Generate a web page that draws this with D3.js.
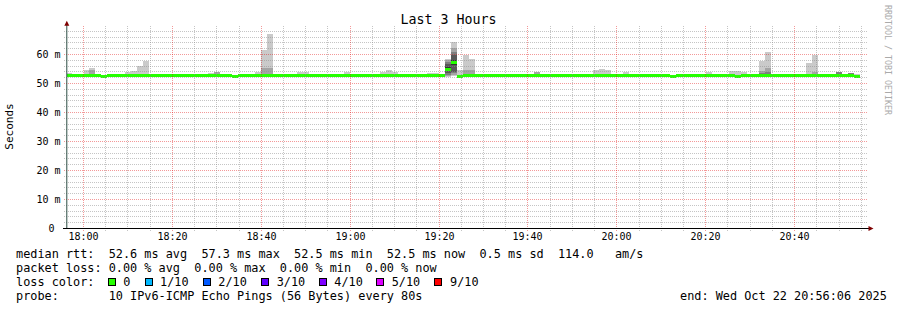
<!DOCTYPE html>
<html>
<head>
<meta charset="utf-8">
<script src="https://cdn.jsdelivr.net/npm/d3@7"></script>
<style>
  html, body { margin: 0; padding: 0; background: #fff; }
  svg { display: block; font-family: "DejaVu Sans Mono", monospace; }
  text { white-space: pre; }
</style>
</head>
<body>
<svg id="chart" width="897" height="310"></svg>
<script>
// ---- data ----
const title = "Last 3 Hours";
const yTicks = [0, 10, 20, 30, 40, 50, 60];
const stepSeconds = 80;

// median rtt (ms) per 80 s step, starting 17:56:00
const median = [
  52.6, 52.6, 52.6, 52.6, 52.6, 52.6, 52.3, 52.6, 52.9, 52.6,
  52.6, 52.6, 52.6, 52.6, 52.6, 52.6, 52.6, 52.6, 52.6, 52.9,
  52.6, 52.6, 52.6, 52.6, 52.6, 52.6, 52.6, 52.6, 52.3, 52.6,
  52.6, 52.6, 52.6, 52.7, 52.7, 52.6, 52.6, 52.9, 52.6, 52.6,
  52.6, 52.6, 52.6, 52.6, 52.9, 52.6, 52.9, 52.6, 52.6, 52.6,
  52.9, 52.6, 52.6, 52.6, 52.6, 52.6, 52.6, 52.6, 52.6, 52.9,
  52.6, 52.6, 52.6, 52.6, 55.0, 57.3, 52.4, 52.6, 52.6, 52.6,
  52.6, 52.6, 52.6, 52.9, 52.6, 52.6, 52.6, 52.6, 52.6, 52.6,
  52.6, 52.6, 52.6, 52.6, 52.6, 52.6, 52.9, 52.6, 52.6, 52.6,
  52.6, 52.6, 52.6, 52.9, 52.6, 52.6, 52.6, 52.6, 52.9, 52.6,
  52.6, 52.9, 52.3, 52.6, 52.6, 52.6, 52.6, 52.6, 52.6, 52.6,
  52.6, 52.6, 52.6, 52.3, 52.6, 52.6, 52.6, 52.6, 52.6, 52.6,
  52.6, 52.6, 52.9, 52.6, 52.6, 52.6, 52.6, 52.6, 52.6, 52.6,
  52.6, 52.6, 52.6, 52.5
];

// slowest ping (ms) per step = top of the light smoke
const rttMax = [
  53.5, 53.3, 52.9, 54.8, 55.5, 52.9, 52.7, 53.2, 53.1, 53.4,
  53.9, 54.2, 56.0, 57.9, 52.9, 52.9, 53.3, 53.3, 52.9, 53.1,
  52.9, 52.9, 52.9, 53.2, 53.7, 53.8, 52.9, 52.9, 52.6, 52.9,
  52.9, 52.9, 54.0, 61.5, 67.2, 52.9, 52.9, 53.1, 52.9, 53.9,
  53.9, 53.2, 52.9, 52.9, 53.1, 52.9, 53.1, 53.9, 53.3, 52.9,
  53.1, 52.9, 52.9, 54.0, 54.8, 53.9, 53.2, 52.9, 52.9, 52.9,
  52.9, 53.5, 53.5, 52.9, 58.6, 64.4, 54.8, 59.8, 58.6, 52.9,
  52.9, 53.1, 53.1, 53.1, 52.9, 52.9, 52.9, 52.9, 53.2, 53.9,
  52.9, 52.9, 52.9, 52.9, 52.9, 53.2, 53.1, 52.9, 53.4, 54.6,
  54.9, 54.5, 52.9, 53.1, 53.9, 53.3, 53.3, 52.9, 53.1, 53.2,
  52.9, 53.1, 52.6, 52.9, 52.9, 53.3, 53.3, 52.9, 54.0, 53.2,
  52.9, 52.9, 54.2, 54.2, 53.9, 52.9, 52.9, 57.6, 61.0, 52.9,
  52.9, 52.9, 53.1, 52.9, 52.9, 57.2, 59.9, 52.9, 52.9, 53.3,
  53.8, 53.2, 53.5, 53.2
];

// steps where the inner smoke shows: all 10 sorted pings (ms)
const smokySteps = [4, 25, 32, 33, 34, 64, 65, 67, 68, 79, 117, 118, 126, 130, 132];
const smokyPings = [
  [52.4, 52.5, 52.5, 52.6, 52.6, 52.6, 52.7, 52.8, 54.5, 55.5],
  [52.4, 52.5, 52.5, 52.6, 52.6, 52.6, 52.7, 52.8, 53.8, 53.8],
  [52.4, 52.5, 52.5, 52.6, 52.6, 52.6, 52.7, 53.1, 53.2, 54.0],
  [52.4, 52.5, 52.5, 52.6, 52.6, 52.7, 52.8, 53.4, 55.4, 61.5],
  [52.4, 52.5, 52.6, 52.6, 52.6, 52.7, 52.8, 53.4, 55.5, 67.2],
  [52.4, 52.6, 52.8, 53.5, 54.4, 55.6, 56.8, 57.5, 58.0, 58.6],
  [52.5, 52.8, 53.5, 54.0, 56.5, 58.1, 59.8, 61.0, 62.1, 64.4],
  [52.4, 52.5, 52.5, 52.6, 52.6, 52.6, 52.7, 52.9, 54.7, 59.8],
  [52.4, 52.5, 52.5, 52.6, 52.6, 52.6, 52.7, 52.9, 54.8, 58.6],
  [52.4, 52.5, 52.5, 52.6, 52.6, 52.6, 52.7, 52.8, 53.9, 53.9],
  [52.4, 52.5, 52.5, 52.6, 52.6, 52.6, 52.7, 53.7, 54.4, 57.6],
  [52.4, 52.5, 52.5, 52.6, 52.6, 52.6, 52.7, 53.9, 55.5, 61.0],
  [52.4, 52.5, 52.5, 52.6, 52.6, 52.6, 52.7, 52.8, 53.9, 59.9],
  [52.4, 52.5, 52.5, 52.6, 52.6, 52.6, 52.7, 53.8, 53.8, 53.8],
  [52.4, 52.5, 52.5, 52.6, 52.6, 52.6, 52.7, 53.5, 53.5, 53.5]
];

const lossLabels = ["0", "1/10", "2/10", "3/10", "4/10", "5/10", "9/10"];
const lossColors = ["#26ff00", "#00b8ff", "#0059ff", "#5e00ff", "#7e00ff", "#dd00ff", "#ff0000"];

const legendLines = [
  "median rtt:  52.6 ms avg  57.3 ms max  52.5 ms min  52.5 ms now  0.5 ms sd  114.0   am/s",
  "packet loss: 0.00 % avg  0.00 % max  0.00 % min  0.00 % now",
  "loss color:",
  "probe:       10 IPv6-ICMP Echo Pings (56 Bytes) every 80s"
];
const endLabel = "end: Wed Oct 22 20:56:06 2025";

// ---- layout ----
const at = (h, m, s) => new Date(2025, 9, 22, h, m, s);
const tStart = at(17, 56, 6), tEnd = at(20, 56, 6), firstStep = at(17, 56, 0);
const plotLeft = 67, plotRight = 866.5, plotTop = 25.5, plotBottom = 228.5;

const svg = d3.select("#chart");
const x = d3.scaleTime().domain([tStart, tEnd]).range([66.2, 866.2]);
const y = d3.scaleLinear().domain([0, 70]).range([228.5, 25.5]);
const smokeShades = ["#cacaca", "#a4a4a4", "#7e7e7e", "#585858", "#323232"];

svg.append("rect").attr("width", 897).attr("height", 310).attr("fill", "#fff");

svg.append("clipPath").attr("id", "plot")
  .append("rect").attr("x", plotLeft).attr("y", plotTop)
  .attr("width", plotRight - plotLeft).attr("height", plotBottom - plotTop);

const graph = svg.append("g").attr("clip-path", "url(#plot)").attr("shape-rendering", "crispEdges");

const stepX = i => Math.round(x(new Date(+firstStep + i * stepSeconds * 1000)));

// smoke
median.forEach((m, i) => {
  const x0 = stepX(i), w = stepX(i + 1) - x0;
  const k = smokySteps.indexOf(i);
  if (k < 0) {
    if (rttMax[i] > m) {
      graph.append("rect").attr("x", x0).attr("width", w)
        .attr("y", y(rttMax[i])).attr("height", y(m) - y(rttMax[i]))
        .attr("fill", smokeShades[0]);
    }
    return;
  }
  const p = smokyPings[k];
  smokeShades.forEach((c, lvl) => {
    const lo = p[lvl], hi = p[p.length - 1 - lvl];
    graph.append("rect").attr("x", x0).attr("width", w)
      .attr("y", y(hi)).attr("height", Math.max(0, y(lo) - y(hi)))
      .attr("fill", c);
  });
});

// median band, coloured by loss (all 0 here)
graph.selectAll("rect.median")
  .data(median)
  .join("rect")
  .attr("class", "median")
  .attr("x", (d, i) => stepX(i))
  .attr("width", (d, i) => stepX(i + 1) - stepX(i))
  .attr("y", d => Math.round(y(d) - 1.5))
  .attr("height", 3)
  .attr("fill", lossColors[0]);

// grid on top, as rrdtool does
const grid = svg.append("g").attr("shape-rendering", "crispEdges").attr("stroke-dasharray", "1,1");
const minorY = d3.range(2, 70, 2).filter(v => v % 10 !== 0);
grid.selectAll("line.hmin").data(minorY).join("line")
  .attr("class", "hmin")
  .attr("x1", 64).attr("x2", plotRight + 1)
  .attr("y1", d => Math.floor(y(d)) + 0.5).attr("y2", d => Math.floor(y(d)) + 0.5)
  .attr("stroke", "rgba(140,140,140,0.5)");
grid.selectAll("line.hmaj").data(yTicks.filter(v => v > 0)).join("line")
  .attr("class", "hmaj")
  .attr("x1", 64).attr("x2", plotRight + 1)
  .attr("y1", d => Math.floor(y(d)) + 0.5).attr("y2", d => Math.floor(y(d)) + 0.5)
  .attr("stroke", "rgba(224,0,0,0.4)");

const minorX = x.ticks(d3.timeMinute.every(5)).filter(d => d.getMinutes() % 20 !== 0);
const majorX = x.ticks(d3.timeMinute.every(20));
grid.selectAll("line.vmin").data(minorX).join("line")
  .attr("class", "vmin")
  .attr("x1", d => Math.floor(x(d)) + 0.5).attr("x2", d => Math.floor(x(d)) + 0.5)
  .attr("y1", plotTop).attr("y2", plotBottom + 2)
  .attr("stroke", "rgba(140,140,140,0.5)");
grid.selectAll("line.vmaj").data(majorX).join("line")
  .attr("class", "vmaj")
  .attr("x1", d => Math.floor(x(d)) + 0.5).attr("x2", d => Math.floor(x(d)) + 0.5)
  .attr("y1", plotTop).attr("y2", plotBottom + 2)
  .attr("stroke", "rgba(224,0,0,0.4)");

// axes
svg.append("line").attr("x1", 66.8).attr("x2", 66.8).attr("y1", 23).attr("y2", 229)
  .attr("stroke", "#2c4d43").attr("stroke-width", 1);
svg.append("line").attr("x1", 63).attr("x2", 870).attr("y1", 228.5).attr("y2", 228.5)
  .attr("stroke", "#000").attr("shape-rendering", "crispEdges");
svg.append("path").attr("d", "M64.3,25.7L69.3,25.7L66.8,20.7Z").attr("fill", "#7f0000");
svg.append("path").attr("d", "M868.5,226L868.5,231L873.5,228.5Z").attr("fill", "#7f0000");

// tick labels
svg.append("g").selectAll("text").data(yTicks).join("text")
  .attr("x", 60.5).attr("y", d => y(d) + 3.6)
  .attr("text-anchor", "end").attr("font-size", "10px").attr("fill", "#000")
  .attr("xml:space", "preserve")
  .text(d => d === 0 ? "0 " : d + " m");

svg.append("g").selectAll("text").data(majorX).join("text")
  .attr("x", d => Math.floor(x(d)) + 0.5).attr("y", 239.8)
  .attr("text-anchor", "middle").attr("font-size", "10px").attr("fill", "#000")
  .text(d3.timeFormat("%H:%M"));

// titles
svg.append("text").attr("x", 448.5).attr("y", 23.5).attr("text-anchor", "middle")
  .attr("font-size", "13.3px").attr("fill", "#000").text(title);
svg.append("text").attr("transform", "translate(13.3,126.5) rotate(-90)")
  .attr("text-anchor", "middle").attr("font-size", "11px").attr("fill", "#000").text("Seconds");
svg.append("text").attr("transform", "translate(885,5) rotate(90)")
  .attr("font-size", "8.3px").attr("fill", "#aaaaaa").text("RRDTOOL / TOBI OETIKER");

// legend
const legend = svg.append("g").attr("font-size", "11.85px").attr("fill", "#000");
legend.selectAll("text.line").data(legendLines).join("text")
  .attr("class", "line")
  .attr("x", 16).attr("y", (d, i) => 257.7 + i * 14)
  .attr("xml:space", "preserve")
  .text(d => d);

const boxX = [108.5, 145.5, 203.5, 261.5, 319.5, 376.5, 434.5];
const labelX = [123.3, 160, 218.3, 276.7, 334.3, 391.7, 450];
legend.selectAll("rect.box").data(lossColors).join("rect")
  .attr("class", "box")
  .attr("x", (d, i) => boxX[i]).attr("y", 278.5).attr("width", 7).attr("height", 7)
  .attr("fill", d => d).attr("stroke", "#000").attr("stroke-width", 1)
  .attr("shape-rendering", "crispEdges");
legend.selectAll("text.loss").data(lossLabels).join("text")
  .attr("class", "loss")
  .attr("x", (d, i) => labelX[i]).attr("y", 285.7)
  .text(d => d);

legend.append("text").attr("x", 680).attr("y", 299.7).text(endLabel);
</script>
</body>
</html>
